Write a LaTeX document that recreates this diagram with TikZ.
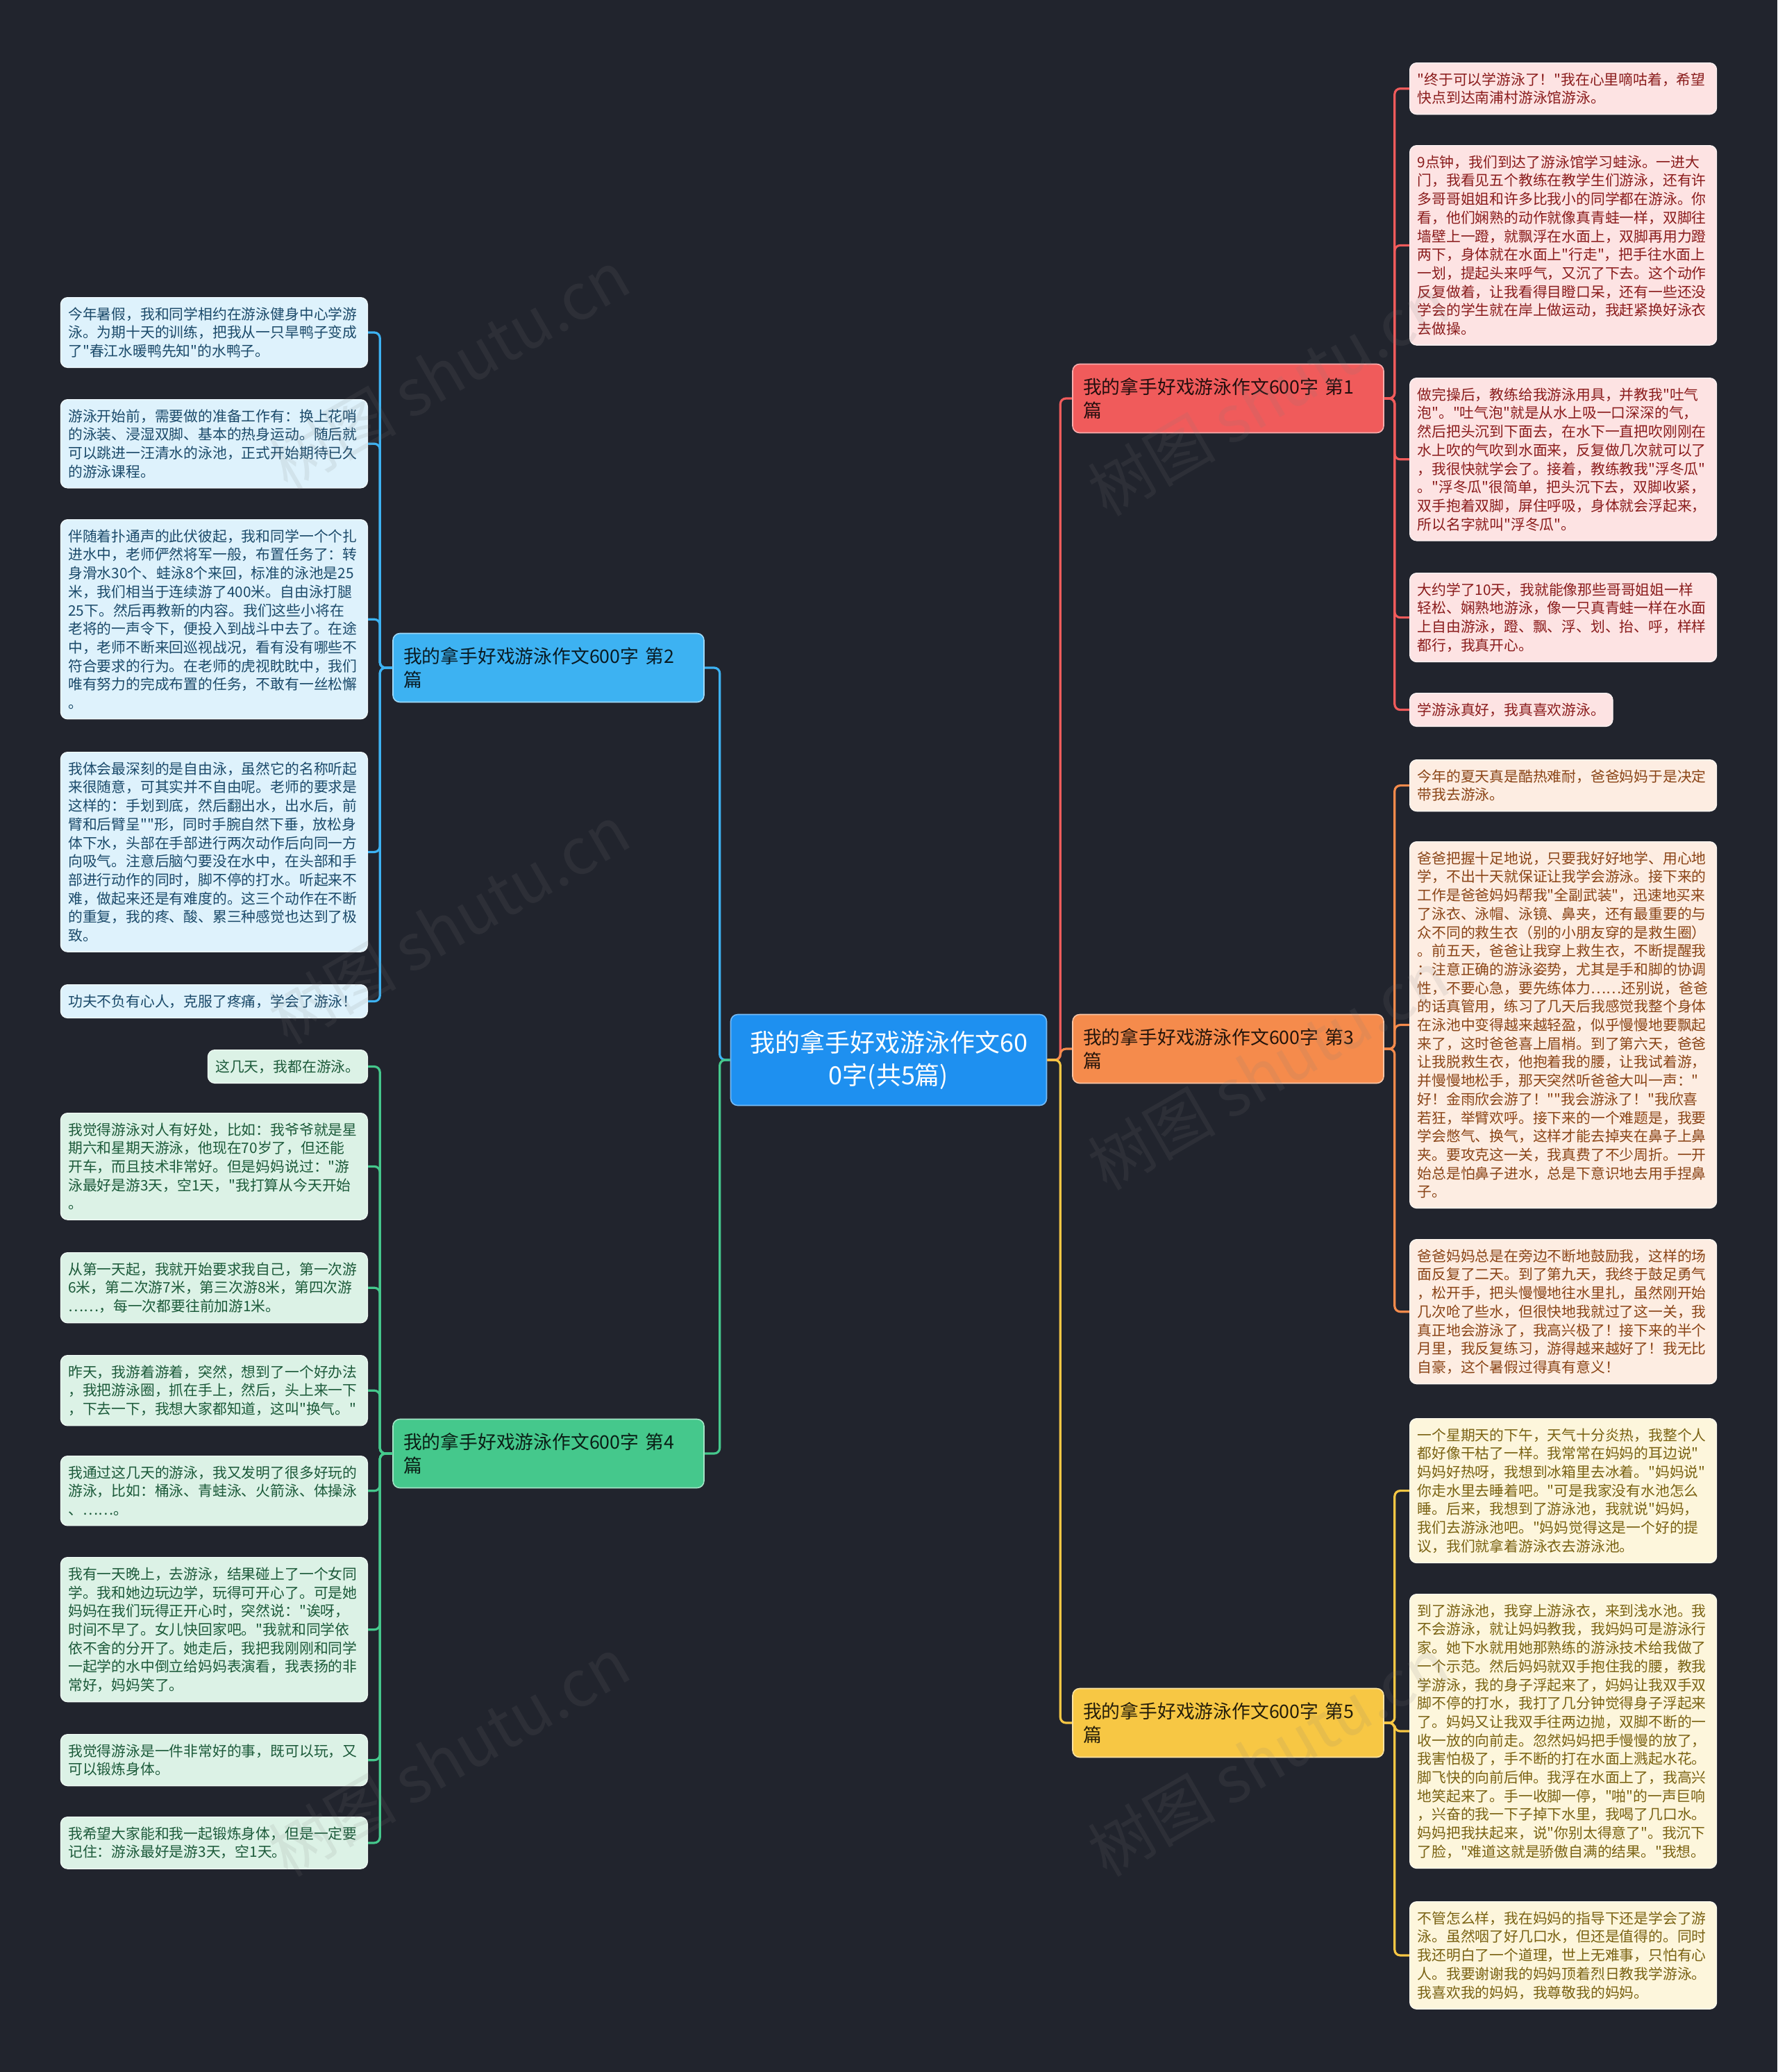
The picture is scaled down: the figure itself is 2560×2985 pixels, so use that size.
\documentclass[tikz,border=0pt]{standalone}
\usepackage{fontspec}
\newfontfamily\cjkfont{Noto Sans CJK SC}
\usepackage{xcolor}
\usepackage{tikz}

\definecolor{bgdark}{HTML}{21242D}
\definecolor{rootblue}{HTML}{1E90F0}
\definecolor{redline}{HTML}{F05B5B}
\definecolor{redpale}{HTML}{FDE3E3}
\definecolor{redink}{HTML}{8A1C1C}
\definecolor{orgline}{HTML}{F58B4C}
\definecolor{orgpale}{HTML}{FDEDE2}
\definecolor{orgink}{HTML}{8A4416}
\definecolor{yelline}{HTML}{F7C744}
\definecolor{yelpale}{HTML}{FDF6DC}
\definecolor{yelink}{HTML}{7A6212}
\definecolor{bluline}{HTML}{3DB2F2}
\definecolor{blupale}{HTML}{DEF2FC}
\definecolor{bluink}{HTML}{1B4A6A}
\definecolor{grnline}{HTML}{45C88C}
\definecolor{grnpale}{HTML}{DCF2E6}
\definecolor{grnink}{HTML}{1C5A3A}

\begin{document}
\begin{tikzpicture}[x=0.5bp, y=-0.5bp,
    leaf/.style={rounded corners=5bp, line width=0.6bp, inner xsep=5.5bp, inner ysep=7bp,
      align=left, font=\cjkfont\fontsize{10.4bp}{13.35bp}\selectfont},
    wide/.style={text width=210bp},
    redleaf/.style={leaf, fill=redpale, draw=white!60!redpale, text=redink, anchor=north west, wide},
    orgleaf/.style={leaf, fill=orgpale, draw=white!60!orgpale, text=orgink, anchor=north west, wide},
    yelleaf/.style={leaf, fill=yelpale, draw=white!60!yelpale, text=yelink, anchor=north west, wide},
    bluleaf/.style={leaf, fill=blupale, draw=white!60!blupale, text=bluink, anchor=north east, wide},
    grnleaf/.style={leaf, fill=grnpale, draw=white!60!grnpale, text=grnink, anchor=north east, wide},
    topic/.style={rounded corners=5bp, line width=0.8bp, inner xsep=7.5bp, inner ysep=4bp,
      text width=209bp, minimum height=49.5bp, align=left,
      font=\cjkfont\fontsize{13.4bp}{17bp}\selectfont},
    link/.style={line width=1.6bp, rounded corners=4bp}]
    % Canvas
    \useasboundingbox (0,0) rectangle (2560,2985);
    \fill[bgdark] (0,0) rectangle (2560,2985);

    % Root
    \node[rounded corners=5bp, fill=rootblue, draw=white!40!rootblue, line width=0.8bp,
      text=white, minimum width=227.5bp, minimum height=65.5bp, align=center,
      font=\cjkfont\fontsize{18bp}{23.8bp}\selectfont] (root) at (1280,1527)
      {我的拿手好戏游泳作文60\\0字(共5篇)};

    % Topics
    \node[topic, fill=redline, draw=white!50!redline, text=black!85!redline] (t1) at (1769,574) {我的拿手好戏游泳作文600字 第1\\篇};
    \node[topic, fill=orgline, draw=white!50!orgline, text=black!85!orgline] (t3) at (1769,1511) {我的拿手好戏游泳作文600字 第3\\篇};
    \node[topic, fill=yelline, draw=white!50!yelline, text=black!85!yelline] (t5) at (1769,2482) {我的拿手好戏游泳作文600字 第5\\篇};
    \node[topic, fill=bluline, draw=white!50!bluline, text=black!85!bluline] (t2) at (790,962) {我的拿手好戏游泳作文600字 第2\\篇};
    \node[topic, fill=grnline, draw=white!50!grnline, text=black!85!grnline] (t4) at (790,2094) {我的拿手好戏游泳作文600字 第4\\篇};

    % Topic 1 leaves
    \node[redleaf] (r1) at (2030,90) {"终于可以学游泳了！"我在心里嘀咕着，希望\\快点到达南浦村游泳馆游泳。};
    \node[redleaf] (r2) at (2030,209) {9点钟，我们到达了游泳馆学习蛙泳。一进大\\门，我看见五个教练在教学生们游泳，还有许\\多哥哥姐姐和许多比我小的同学都在游泳。你\\看，他们娴熟的动作就像真青蛙一样，双脚往\\墙壁上一蹬，就飘浮在水面上，双脚再用力蹬\\两下，身体就在水面上"行走"，把手往水面上\\一划，提起头来呼气，又沉了下去。这个动作\\反复做着，让我看得目瞪口呆，还有一些还没\\学会的学生就在岸上做运动，我赶紧换好泳衣\\去做操。};
    \node[redleaf] (r3) at (2030,544) {做完操后，教练给我游泳用具，并教我"吐气\\泡"。"吐气泡"就是从水上吸一口深深的气，\\然后把头沉到下面去，在水下一直把吹刚刚在\\水上吹的气吹到水面来，反复做几次就可以了\\，我很快就学会了。接着，教练教我"浮冬瓜"\\。"浮冬瓜"很简单，把头沉下去，双脚收紧，\\双手抱着双脚，屏住呼吸，身体就会浮起来，\\所以名字就叫"浮冬瓜"。};
    \node[redleaf] (r4) at (2030,825) {大约学了10天，我就能像那些哥哥姐姐一样\\轻松、娴熟地游泳，像一只真青蛙一样在水面\\上自由游泳，蹬、飘、浮、划、抬、呼，样样\\都行，我真开心。};
    \node[redleaf, text width={}] (r5) at (2030,998) {学游泳真好，我真喜欢游泳。};

    % Topic 3 leaves
    \node[orgleaf] (o1) at (2030,1094) {今年的夏天真是酷热难耐，爸爸妈妈于是决定\\带我去游泳。};
    \node[orgleaf] (o2) at (2030,1212) {爸爸把握十足地说，只要我好好地学、用心地\\学，不出十天就保证让我学会游泳。接下来的\\工作是爸爸妈妈帮我"全副武装"，迅速地买来\\了泳衣、泳帽、泳镜、鼻夹，还有最重要的与\\众不同的救生衣（别的小朋友穿的是救生圈）\\。前五天，爸爸让我穿上救生衣，不断提醒我\\：注意正确的游泳姿势，尤其是手和脚的协调\\性，不要心急，要先练体力……还别说，爸爸\\的话真管用，练习了几天后我感觉我整个身体\\在泳池中变得越来越轻盈，似乎慢慢地要飘起\\来了，这时爸爸喜上眉梢。到了第六天，爸爸\\让我脱救生衣，他抱着我的腰，让我试着游，\\并慢慢地松手，那天突然听爸爸大叫一声："\\好！金雨欣会游了！""我会游泳了！"我欣喜\\若狂，举臂欢呼。接下来的一个难题是，我要\\学会憋气、换气，这样才能去掉夹在鼻子上鼻\\夹。要攻克这一关，我真费了不少周折。一开\\始总是怕鼻子进水，总是下意识地去用手捏鼻\\子。};
    \node[orgleaf] (o3) at (2030,1785) {爸爸妈妈总是在旁边不断地鼓励我，这样的场\\面反复了二天。到了第九天，我终于鼓足勇气\\，松开手，把头慢慢地往水里扎，虽然刚开始\\几次呛了些水，但很快地我就过了这一关，我\\真正地会游泳了，我高兴极了！接下来的半个\\月里，我反复练习，游得越来越好了！我无比\\自豪，这个暑假过得真有意义！};

    % Topic 5 leaves
    \node[yelleaf] (y1) at (2030,2043) {一个星期天的下午，天气十分炎热，我整个人\\都好像干枯了一样。我常常在妈妈的耳边说"\\妈妈好热呀，我想到冰箱里去冰着。"妈妈说"\\你走水里去睡着吧。"可是我家没有水池怎么\\睡。后来，我想到了游泳池，我就说"妈妈，\\我们去游泳池吧。"妈妈觉得这是一个好的提\\议，我们就拿着游泳衣去游泳池。};
    \node[yelleaf] (y2) at (2030,2296) {到了游泳池，我穿上游泳衣，来到浅水池。我\\不会游泳，就让妈妈教我，我妈妈可是游泳行\\家。她下水就用她那熟练的游泳技术给我做了\\一个示范。然后妈妈就双手抱住我的腰，教我\\学游泳，我的身子浮起来了，妈妈让我双手双\\脚不停的打水，我打了几分钟觉得身子浮起来\\了。妈妈又让我双手往两边抛，双脚不断的一\\收一放的向前走。忽然妈妈把手慢慢的放了，\\我害怕极了，手不断的打在水面上溅起水花。\\脚飞快的向前后伸。我浮在水面上了，我高兴\\地笑起来了。手一收脚一停，"啪"的一声巨响\\，兴奋的我一下子掉下水里，我喝了几口水。\\妈妈把我扶起来，说"你别太得意了"。我沉下\\了脸，"难道这就是骄傲自满的结果。"我想。};
    \node[yelleaf] (y3) at (2030,2739) {不管怎么样，我在妈妈的指导下还是学会了游\\泳。虽然咽了好几口水，但还是值得的。同时\\我还明白了一个道理，世上无难事，只怕有心\\人。我要谢谢我的妈妈顶着烈日教我学游泳。\\我喜欢我的妈妈，我尊敬我的妈妈。};

    % Topic 2 leaves
    \node[bluleaf] (u1) at (530,428) {今年暑假，我和同学相约在游泳健身中心学游\\泳。为期十天的训练，把我从一只旱鸭子变成\\了"春江水暖鸭先知"的水鸭子。};
    \node[bluleaf] (u2) at (530,575) {游泳开始前，需要做的准备工作有：换上花哨\\的泳装、浸湿双脚、基本的热身运动。随后就\\可以跳进一汪清水的泳池，正式开始期待已久\\的游泳课程。};
    \node[bluleaf] (u3) at (530,748) {伴随着扑通声的此伏彼起，我和同学一个个扎\\进水中，老师俨然将军一般，布置任务了：转\\身滑水30个、蛙泳8个来回，标准的泳池是25\\米，我们相当于连续游了400米。自由泳打腿\\25下。然后再教新的内容。我们这些小将在\\老将的一声令下，便投入到战斗中去了。在途\\中，老师不断来回巡视战况，看有没有哪些不\\符合要求的行为。在老师的虎视眈眈中，我们\\唯有努力的完成布置的任务，不敢有一丝松懈\\。};
    \node[bluleaf] (u4) at (530,1083) {我体会最深刻的是自由泳，虽然它的名称听起\\来很随意，可其实并不自由呢。老师的要求是\\这样的：手划到底，然后翻出水，出水后，前\\臂和后臂呈""形，同时手腕自然下垂，放松身\\体下水，头部在手部进行两次动作后向同一方\\向吸气。注意后脑勺要没在水中，在头部和手\\部进行动作的同时，脚不停的打水。听起来不\\难，做起来还是有难度的。这三个动作在不断\\的重复，我的疼、酸、累三种感觉也达到了极\\致。};
    \node[bluleaf] (u5) at (530,1418) {功夫不负有心人，克服了疼痛，学会了游泳！};

    % Topic 4 leaves
    \node[grnleaf, text width={}] (g1) at (530,1512) {这几天，我都在游泳。};
    \node[grnleaf] (g2) at (530,1603) {我觉得游泳对人有好处，比如：我爷爷就是星\\期六和星期天游泳，他现在70岁了，但还能\\开车，而且技术非常好。但是妈妈说过："游\\泳最好是游3天，空1天，"我打算从今天开始\\。};
    \node[grnleaf] (g3) at (530,1804) {从第一天起，我就开始要求我自己，第一次游\\6米，第二次游7米，第三次游8米，第四次游\\……，每一次都要往前加游1米。};
    \node[grnleaf] (g4) at (530,1952) {昨天，我游着游着，突然，想到了一个好办法\\，我把游泳圈，抓在手上，然后，头上来一下\\，下去一下，我想大家都知道，这叫"换气。"};
    \node[grnleaf] (g5) at (530,2097) {我通过这几天的游泳，我又发明了很多好玩的\\游泳，比如：桶泳、青蛙泳、火箭泳、体操泳\\、……。};
    \node[grnleaf] (g6) at (530,2243) {我有一天晚上，去游泳，结果碰上了一个女同\\学。我和她边玩边学，玩得可开心了。可是她\\妈妈在我们玩得正开心时，突然说："诶呀，\\时间不早了。女儿快回家吧。"我就和同学依\\依不舍的分开了。她走后，我把我刚刚和同学\\一起学的水中倒立给妈妈表演看，我表扬的非\\常好，妈妈笑了。};
    \node[grnleaf] (g7) at (530,2498) {我觉得游泳是一件非常好的事，既可以玩，又\\可以锻炼身体。};
    \node[grnleaf] (g8) at (530,2617) {我希望大家能和我一起锻炼身体，但是一定要\\记住：游泳最好是游3天，空1天。};

    % Root to topics
    \draw[link, redline] (root.east) -- ++(19,0) |- (t1.west);
    \draw[link, orgline] (root.east) -- ++(19,0) |- (t3.west);
    \draw[link, yelline] (root.east) -- ++(19,0) |- (t5.west);
    \draw[link, bluline] (root.west) -- ++(-15,0) |- (t2.east);
    \draw[link, grnline] (root.west) -- ++(-15,0) |- (t4.east);

    % Topics to leaves
    \foreach \n in {r1,r2,r3,r4,r5}
      \draw[link, redline] (t1.east) -- ++(15,0) |- (\n.west);
    \foreach \n in {o1,o2,o3}
      \draw[link, orgline] (t3.east) -- ++(15,0) |- (\n.west);
    \foreach \n in {y1,y2,y3}
      \draw[link, yelline] (t5.east) -- ++(15,0) |- (\n.west);
    \foreach \n in {u1,u2,u3,u4,u5}
      \draw[link, bluline] (t2.west) -- ++(-18,0) |- (\n.east);
    \foreach \n in {g1,g2,g3,g4,g5,g6,g7,g8}
      \draw[link, grnline] (t4.west) -- ++(-18,0) |- (\n.east);

    % Watermarks
    \foreach \wx/\wy/\wn in {647/533/w1, 647/1332/w2, 647/2531/w3, 1827/571/w4, 1827/1542/w5, 1827/2531/w6}
      \node[rotate=30, text=gray, opacity=0.13, font=\cjkfont\fontsize{46bp}{50bp}\selectfont] (\wn) at (\wx,\wy) {树图 shutu.cn};
\end{tikzpicture}
\end{document}
